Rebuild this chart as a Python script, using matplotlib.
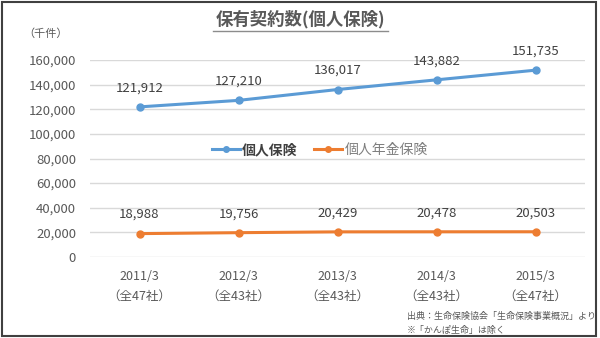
import matplotlib
matplotlib.use("Agg")
import matplotlib.pyplot as plt
from matplotlib.patches import Rectangle
from matplotlib.lines import Line2D

plt.rcParams['font.family'] = ['Noto Sans CJK JP', 'DejaVu Sans']

categories = ["2011/3\n（全47社）", "2012/3\n（全43社）", "2013/3\n（全43社）", "2014/3\n（全43社）", "2015/3\n（全47社）"]
kojin = [121912, 127210, 136017, 143882, 151735]
nenkin = [18988, 19756, 20429, 20478, 20503]
series_names = ["個人保険", "個人年金保険"]
yticks = [0, 20000, 40000, 60000, 80000, 100000, 120000, 140000, 160000]

BLUE = "#5B9BD5"
ORANGE = "#ED7D31"
TXT = "#595959"
GRID = "#D9D9D9"

fig = plt.figure(figsize=(6, 3.38), dpi=100)
ax = fig.add_axes([90/600, 1-257/338, (585-90)/600, (257-60)/338])

x = list(range(len(categories)))
ax.plot(x, kojin, color=BLUE, lw=2.2, marker='o', ms=5, zorder=3)
ax.plot(x, nenkin, color=ORANGE, lw=2.2, marker='o', ms=5, zorder=3)

for xi, v in zip(x, kojin):
    ax.annotate(f"{v:,}", (xi, v), xytext=(0, 9), textcoords='offset points',
                ha='center', va='bottom', fontsize=9.5, color="#404040")
for xi, v in zip(x, nenkin):
    ax.annotate(f"{v:,}", (xi, v), xytext=(0, 9), textcoords='offset points',
                ha='center', va='bottom', fontsize=9.5, color="#404040")

ax.set_xlim(-0.5, len(categories)-0.5)
ax.set_ylim(0, 160000)
ax.set_yticks(yticks)
ax.set_yticklabels([f"{t:,}" for t in yticks], fontsize=9.5, color=TXT)
ax.set_xticks(x)
ax.set_xticklabels(categories, fontsize=9, color=TXT, linespacing=1.75)
ax.tick_params(axis='both', length=0, pad=10)
ax.tick_params(axis='x', pad=9)
ax.grid(axis='y', color=GRID, lw=1)
ax.set_axisbelow(True)
for s in ax.spines.values():
    s.set_visible(False)

handles = [Line2D([], [], color=BLUE, lw=2.2, marker='o', ms=4),
           Line2D([], [], color=ORANGE, lw=2.2, marker='o', ms=4)]
leg = fig.legend(handles, series_names, loc='center', bbox_to_anchor=(320/600, 1-150/338),
                 ncol=2, frameon=False, fontsize=10, handlelength=2.0, handletextpad=0.2,
                 columnspacing=1.2)
texts = leg.get_texts()
texts[0].set_fontweight('bold')
texts[0].set_color("#404040")
texts[1].set_color("#7F7F7F")

fig.text(300/600, 1-19/338, "保有契約数(個人保険)", ha='center', va='center',
         fontsize=12.5, fontweight='bold', color=TXT)
fig.add_artist(Line2D([213/600, 388/600], [1-31/338, 1-31/338], color="#8C8C8C", lw=1))
fig.text(46/600, 1-34/338, "（千件）", ha='center', va='center', fontsize=8, color=TXT)

fig.text(596/600, 1-316/338, "出典：生命保険協会「生命保険事業概況」より", ha='right', va='center',
         fontsize=6.5, color=TXT)
fig.text(407/600, 1-330/338, "※「かんぽ生命」は除く", ha='left', va='center',
         fontsize=6.5, color=TXT)

fig.add_artist(Rectangle((1.5/600, 2.5/338), 594/600, 334/338, transform=fig.transFigure,
                         fill=False, edgecolor="#404040", lw=1.5))

fig.savefig("out.png", dpi=100)
